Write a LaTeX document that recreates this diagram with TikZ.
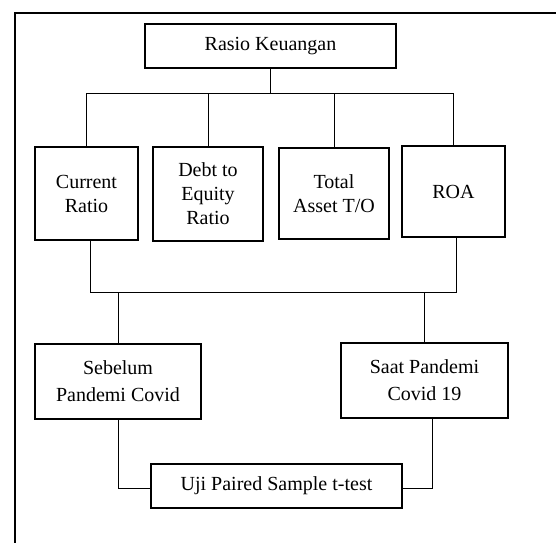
\documentclass[tikz,border=0pt]{standalone}
\usepackage{fontspec}
\setmainfont{Liberation Serif}
\begin{document}
\begin{tikzpicture}[x=1pt,y=-1pt,
  box/.style={draw, line width=1.2pt, rectangle, inner sep=0pt, align=center,
    font=\fontsize{20}{24}\selectfont},
  mid/.style={font=\fontsize{20}{27}\selectfont},
  conn/.style={line width=0.9pt},
  frame/.style={line width=1.8pt}]
\useasboundingbox (0,0) rectangle (556,542);
\draw[frame] (600,13) -- (15,13) -- (15,600);
\node[box, minimum width=251pt, minimum height=44pt] (top) at (270.5,46) {Rasio Keuangan};
\node[box, minimum width=103pt, minimum height=93pt] (cr) at (86.5,193.5) {Current\\Ratio};
\node[box, minimum width=110pt, minimum height=94pt] (der) at (208,194) {Debt to\\Equity\\Ratio};
\node[box, minimum width=110pt, minimum height=91pt] (ta) at (334,193.5) {Total\\Asset T/O};
\node[box, minimum width=103pt, minimum height=91pt] (roa) at (453.5,191.5) {ROA};
\node[box, mid, minimum width=166pt, minimum height=75pt] (seb) at (118,381.5) {Sebelum\\Pandemi Covid};
\node[box, mid, minimum width=167pt, minimum height=75pt] (saat) at (424.5,380.5) {Saat Pandemi\\Covid 19};
\node[box, minimum width=251pt, minimum height=44pt] (uji) at (276.5,486) {Uji Paired Sample t-test};
\coordinate (hb) at (0,93);
\coordinate (lb) at (0,292);
\draw[conn] (top.south) -- (top.south |- hb);
\draw[conn] (cr.north) -- (cr.north |- hb) -- (roa.north |- hb) -- (roa.north);
\draw[conn] (der.north) -- (der.north |- hb);
\draw[conn] (ta.north) -- (ta.north |- hb);
\draw[conn] ([xshift=3.5pt]cr.south) -- ([xshift=3.5pt]cr.south |- lb) -- ([xshift=2.5pt]roa.south |- lb) -- ([xshift=2.5pt]roa.south);
\draw[conn] (seb.north) -- (seb.north |- lb);
\draw[conn] (saat.north) -- (saat.north |- lb);
\draw[conn] (seb.south) |- ([yshift=-2pt]uji.west);
\draw[conn] ([xshift=7.5pt]saat.south) |- ([yshift=-2pt]uji.east);
\end{tikzpicture}
\end{document}
